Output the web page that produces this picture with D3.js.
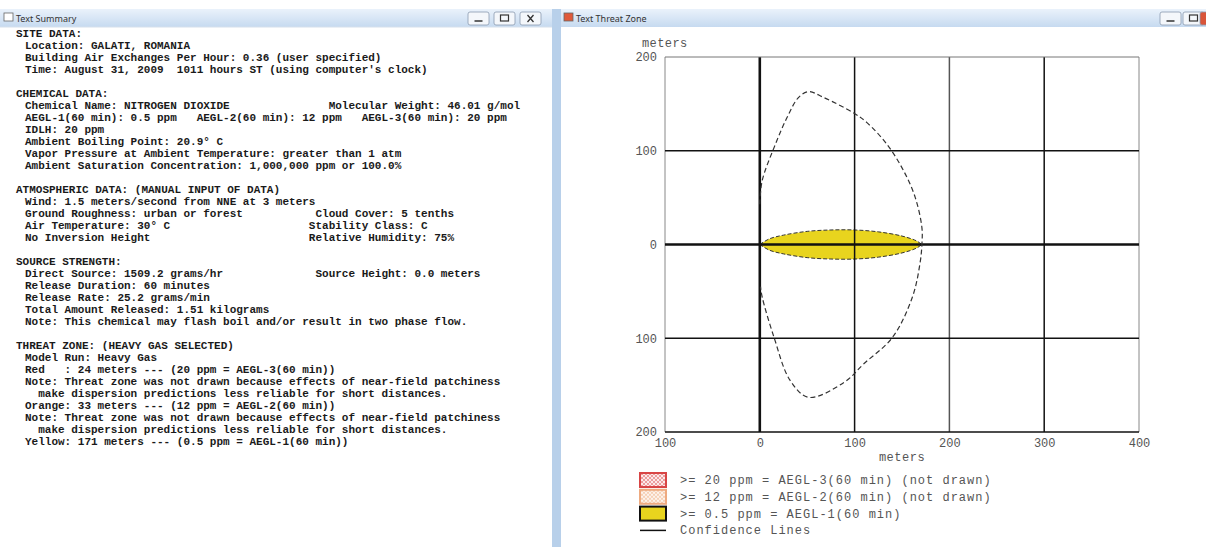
<!DOCTYPE html>
<html>
<head>
<meta charset="UTF-8" />
<title>ALOHA Text Summary and Threat Zone</title>
<script src="https://d3js.org/d3.v7.min.js"></script>
<style>
	body { margin: 0; background: #ffffff; }
	.mono { font-family: "Liberation Mono", "DejaVu Sans Mono", monospace; white-space: pre; }
</style>
</head>
<body>
<div id="chart"></div>
<script type="text/javascript">

	// text summary, one entry per line ("  " = indented line)
	var summaryLines = [
		"SITE DATA:",
		"  Location: GALATI, ROMANIA",
		"  Building Air Exchanges Per Hour: 0.36 (user specified)",
		"  Time: August 31, 2009  1011 hours ST (using computer's clock)",
		"",
		"CHEMICAL DATA:",
		"  Chemical Name: NITROGEN DIOXIDE               Molecular Weight: 46.01 g/mol",
		"  AEGL-1(60 min): 0.5 ppm   AEGL-2(60 min): 12 ppm   AEGL-3(60 min): 20 ppm",
		"  IDLH: 20 ppm",
		"  Ambient Boiling Point: 20.9\u00b0 C",
		"  Vapor Pressure at Ambient Temperature: greater than 1 atm",
		"  Ambient Saturation Concentration: 1,000,000 ppm or 100.0%",
		"",
		"ATMOSPHERIC DATA: (MANUAL INPUT OF DATA)",
		"  Wind: 1.5 meters/second from NNE at 3 meters",
		"  Ground Roughness: urban or forest           Cloud Cover: 5 tenths",
		"  Air Temperature: 30\u00b0 C                     Stability Class: C",
		"  No Inversion Height                        Relative Humidity: 75%",
		"",
		"SOURCE STRENGTH:",
		"  Direct Source: 1509.2 grams/hr              Source Height: 0.0 meters",
		"  Release Duration: 60 minutes",
		"  Release Rate: 25.2 grams/min",
		"  Total Amount Released: 1.51 kilograms",
		"  Note: This chemical may flash boil and/or result in two phase flow.",
		"",
		"THREAT ZONE: (HEAVY GAS SELECTED)",
		"  Model Run: Heavy Gas",
		"  Red   : 24 meters --- (20 ppm = AEGL-3(60 min))",
		"  Note: Threat zone was not drawn because effects of near-field patchiness",
		"    make dispersion predictions less reliable for short distances.",
		"  Orange: 33 meters --- (12 ppm = AEGL-2(60 min))",
		"  Note: Threat zone was not drawn because effects of near-field patchiness",
		"    make dispersion predictions less reliable for short distances.",
		"  Yellow: 171 meters --- (0.5 ppm = AEGL-1(60 min))"
	];

	// threat zone plot
	var xTicks = [-100, 0, 100, 200, 300, 400];
	var yTicks = [200, 100, 0, -100, -200];

	// yellow zone footprint: downwind distance and half width (meters)
	var zoneX    = [0, 10, 25, 50, 75, 100, 125, 150, 165, 171];
	var zoneHalf = [0, 6, 10, 14, 15.5, 15.5, 13.5, 9, 4, 0];

	// confidence lines (meters)
	var confX = [0, 2.5, 16.5, 29, 41, 51.5, 67, 99.5, 113, 134, 151.5, 164, 171, 171,
		169, 161, 140, 110, 89, 51.5, 32, 15, 2.5, 0.7];
	var confY = [43, 68, 107, 136, 157, 163, 157, 140, 130, 107, 79, 50, 18, 0,
		-20, -56, -99, -127, -147, -163, -145, -99, -56, -45];

	var legendLabels = [
		">= 20 ppm = AEGL-3(60 min) (not drawn)",
		">= 12 ppm = AEGL-2(60 min) (not drawn)",
		">= 0.5 ppm = AEGL-1(60 min)",
		"Confidence Lines"
	];
	var legendStroke = ["#d84545", "#eeaa80", "#111111", "#111111"];

	var svg = d3.select("div#chart")
		.append("svg")
			.attr("width", 1206)
			.attr("height", 547);

	var defs = svg.append("defs");
	var grad = defs.append("linearGradient")
		.attr("id", "titleGrad")
		.attr("x1", 0).attr("y1", 0).attr("x2", 0).attr("y2", 1);
	grad.append("stop").attr("offset", "0%").attr("stop-color", "#eaf2fb");
	grad.append("stop").attr("offset", "100%").attr("stop-color", "#c6daf0");

	function hatch(id, color, bg) {
		var p = defs.append("pattern")
			.attr("id", id)
			.attr("width", 4).attr("height", 4)
			.attr("patternUnits", "userSpaceOnUse");
		p.append("rect").attr("width", 4).attr("height", 4).attr("fill", bg);
		p.append("path").attr("d", "M0,0L4,4M4,0L0,4")
			.attr("stroke", color).attr("stroke-width", 0.8);
	}
	hatch("hatchRed", "#e88a8a", "#fbe9e9");
	hatch("hatchOrange", "#f2c6a8", "#fdf3ec");
	var legendFill = ["url(#hatchRed)", "url(#hatchOrange)", "#e8d41e", "none"];

	// window frame helper
	function windowFrame(x0, x1, title, iconColor) {
		var g = svg.append("g");
		g.append("rect")
			.attr("x", x0).attr("y", 9)
			.attr("width", x1 - x0).attr("height", 18)
			.attr("fill", "url(#titleGrad)");
		g.append("rect")
			.attr("x", x0 + 4).attr("y", 13)
			.attr("width", 9).attr("height", 8)
			.attr("fill", iconColor == null ? "#fff" : iconColor)
			.attr("stroke", "#666").attr("stroke-width", 0.8);
		g.append("text")
			.attr("x", x0 + 16).attr("y", 22)
			.attr("font-family", "Noto Sans, sans-serif")
			.attr("font-size", 9)
			.attr("fill", "#333")
			.text(title);
		return g;
	}

	function buttons(xs, closeRed) {
		xs.forEach(function(bx, i) {
			var red = closeRed && i == xs.length - 1;
			svg.append("rect")
				.attr("x", bx).attr("y", 12)
				.attr("width", 21).attr("height", 13)
				.attr("rx", 2)
				.attr("fill", red ? "#d9553a" : "#f4f7fb")
				.attr("stroke", "#8b9bb0").attr("stroke-width", 0.8);
			var cx = bx + 10.5;
			if (i == 0) {
				svg.append("path").attr("d", "M" + (cx - 4) + ",21H" + (cx + 4))
					.attr("stroke", "#333").attr("stroke-width", 1.5);
			} else if (i == 1) {
				svg.append("rect").attr("x", cx - 4).attr("y", 15).attr("width", 8).attr("height", 6)
					.attr("fill", "none").attr("stroke", "#333").attr("stroke-width", 1.2);
			} else {
				svg.append("path")
					.attr("d", "M" + (cx - 3) + ",15L" + (cx + 3) + ",22M" + (cx + 3) + ",15L" + (cx - 3) + ",22")
					.attr("stroke", red ? "#fff" : "#333").attr("stroke-width", 1.3);
			}
		});
	}

	// ---------- left window: Text Summary ----------
	windowFrame(0, 556, "Text Summary");
	buttons([468, 494, 520], false);
	svg.append("rect")
		.attr("x", 552).attr("y", 9)
		.attr("width", 6).attr("height", 538)
		.attr("fill", "#b8d0ea");
	svg.append("line")
		.attr("x1", 0).attr("x2", 552).attr("y1", 27).attr("y2", 27)
		.attr("stroke", "#d5e0ec");

	svg.append("g")
		.selectAll("text")
		.data(summaryLines)
		.enter()
		.append("text")
			.attr("class", "mono")
			.attr("x", function(d) { return d.indexOf("  ") == 0 ? 25 : 16; })
			.attr("y", function(d, i) { return 37 + i * 12; })
			.attr("font-size", 11)
			.attr("font-weight", "bold")
			.attr("fill", "#1a1a1a")
			.text(function(d) { return d.indexOf("  ") == 0 ? d.slice(2) : d; });

	// ---------- right window: Text Threat Zone ----------
	windowFrame(560, 1206, "Text Threat Zone", "#e05a3a");
	buttons([1160, 1183, 1200], true);
	svg.append("rect")
		.attr("x", 558).attr("y", 9)
		.attr("width", 3).attr("height", 538)
		.attr("fill", "#b8d0ea");

	var x = d3.scaleLinear()
		.domain([-100, 400])
		.range([665, 1139]);
	var y = d3.scaleLinear()
		.domain([-200, 200])
		.range([432, 57]);

	var plot = svg.append("g");

	// yellow threat zone
	var zone = zoneX.map(function(d, i) { return [d, zoneHalf[i]]; });
	plot.append("path")
		.datum(zone)
		.attr("d", d3.area()
			.x(function(d) { return x(d[0]); })
			.y0(function(d) { return y(-d[1]); })
			.y1(function(d) { return y(d[1]); })
			.curve(d3.curveCatmullRom))
		.attr("fill", "#e8d41e")
		.attr("stroke", "#333")
		.attr("stroke-width", 1)
		.attr("stroke-dasharray", "4,2");

	// grid
	plot.selectAll("line.vgrid")
		.data(xTicks)
		.enter()
		.append("line")
			.attr("class", "vgrid")
			.attr("x1", function(d) { return x(d); })
			.attr("x2", function(d) { return x(d); })
			.attr("y1", y(200))
			.attr("y2", y(-200))
			.attr("stroke", function(d) { return (d == -100 || d == 400) ? "#888" : (d == 200 ? "#555" : "#111"); })
			.attr("stroke-width", function(d) { return d == 0 ? 2.6 : ((d == -100 || d == 400) ? 1 : 1.5); });
	plot.selectAll("line.hgrid")
		.data(yTicks)
		.enter()
		.append("line")
			.attr("class", "hgrid")
			.attr("x1", x(-100))
			.attr("x2", x(400))
			.attr("y1", function(d) { return y(d); })
			.attr("y2", function(d) { return y(d); })
			.attr("stroke", function(d) { return d == 200 ? "#777" : "#111"; })
			.attr("stroke-width", function(d) { return d == 0 ? 2.6 : (d == 200 ? 1 : 1.5); });

	// confidence lines
	var conf = confX.map(function(d, i) { return [d, confY[i]]; });
	plot.append("path")
		.datum(conf)
		.attr("d", d3.line()
			.x(function(d) { return x(d[0]); })
			.y(function(d) { return y(d[1]); })
			.curve(d3.curveCatmullRom))
		.attr("fill", "none")
		.attr("stroke", "#333")
		.attr("stroke-width", 1.2)
		.attr("stroke-dasharray", "5,3");

	// axes (labels only, no minus signs as in the original)
	var xAxis = plot.append("g")
		.attr("transform", "translate(0," + y(-200) + ")")
		.call(d3.axisBottom(x).tickValues(xTicks).tickSize(0).tickPadding(6)
			.tickFormat(function(d) { return Math.abs(d); }));
	var yAxis = plot.append("g")
		.attr("transform", "translate(" + x(-100) + ",0)")
		.call(d3.axisLeft(y).tickValues(yTicks).tickSize(0).tickPadding(8)
			.tickFormat(function(d) { return Math.abs(d); }));
	[xAxis, yAxis].forEach(function(a) {
		a.select(".domain").remove();
		a.selectAll("text")
			.attr("font-family", "Liberation Mono, monospace")
			.attr("font-size", 12)
			.attr("fill", "#555");
	});

	plot.append("text")
		.attr("x", 642).attr("y", 47)
		.attr("font-family", "Liberation Mono, monospace")
		.attr("font-size", 12)
		.attr("letter-spacing", 0.4)
		.attr("fill", "#555")
		.text("meters");
	plot.append("text")
		.attr("x", (x(-100) + x(400)) / 2).attr("y", 461)
		.attr("text-anchor", "middle")
		.attr("font-family", "Liberation Mono, monospace")
		.attr("font-size", 12)
		.attr("letter-spacing", 0.5)
		.attr("fill", "#555")
		.text("meters");

	// legend
	var legend = svg.append("g")
		.selectAll("g")
		.data(legendLabels)
		.enter()
		.append("g")
			.attr("transform", function(d, i) { return "translate(640," + (480 + i * 16.8) + ")"; });
	legend.each(function(d, i) {
		var g = d3.select(this);
		if (i < 3) {
			g.append("rect")
				.attr("x", 0).attr("y", -7)
				.attr("width", 26).attr("height", 14)
				.attr("fill", legendFill[i])
				.attr("stroke", legendStroke[i])
				.attr("stroke-width", 2);
		} else {
			g.append("line")
				.attr("x1", 0).attr("x2", 26)
				.attr("stroke", legendStroke[i])
				.attr("stroke-width", 1.5);
		}
		g.append("text")
			.attr("class", "mono")
			.attr("x", 40).attr("y", 4)
			.attr("font-size", 12)
			.attr("letter-spacing", 1)
			.attr("fill", "#555")
			.text(d);
	});
</script>
</body>
</html>
